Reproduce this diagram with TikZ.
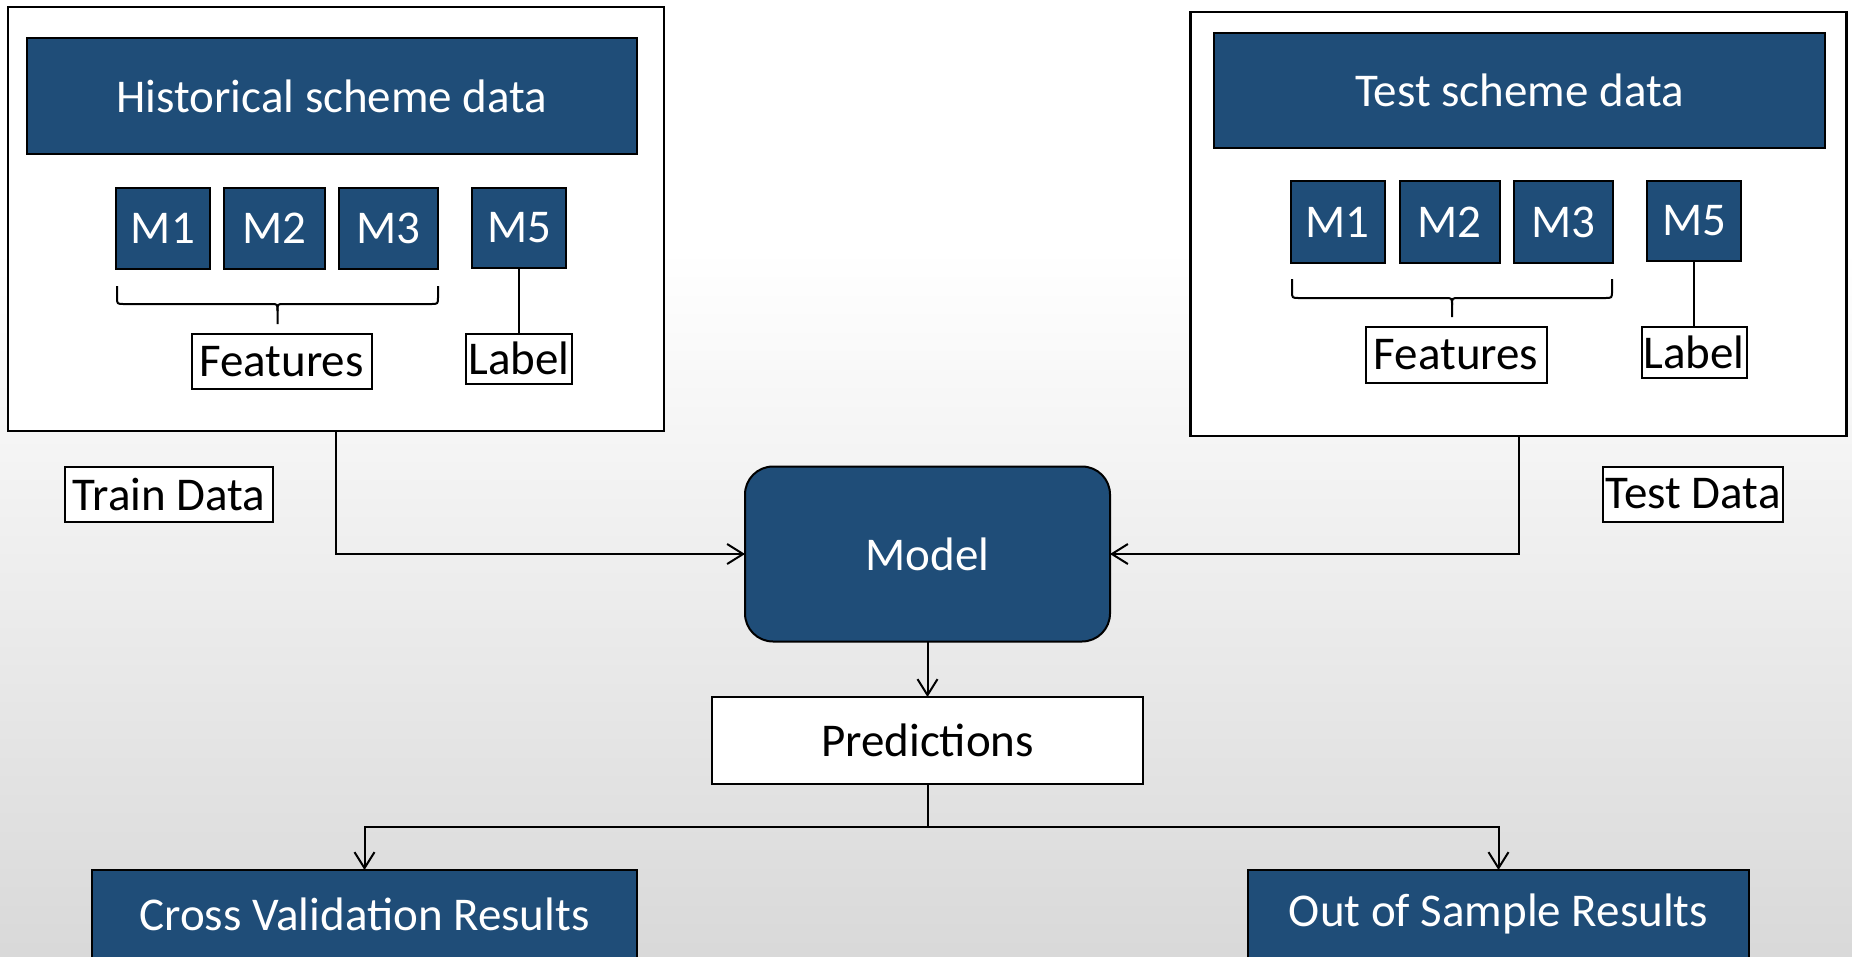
\documentclass[tikz,border=0pt]{standalone}
\usepackage{fontspec}
\setmainfont{Carlito}
\usetikzlibrary{arrows.meta,calc}
\definecolor{navy}{RGB}{31,77,120}
\begin{document}
\begin{tikzpicture}[x=1pt,y=-1pt,
  every node/.style={font=\fontsize{47}{56}\selectfont, inner sep=0pt, outer sep=0pt},
  darkbox/.style={draw=black, fill=navy, text=white, line width=2pt},
  whitebox/.style={draw=black, fill=white, line width=2pt},
  outerbox/.style={draw=black, fill=white, line width=2.5pt},
  conn/.style={line width=2pt},
  arr/.style={conn, -{Straight Barb[length=16pt,width=20pt]}},
]
\useasboundingbox (0,0) rectangle (1852,956);
\clip (0,0) rectangle (1852,956);
\fill[white] (0,0) rectangle (1852,250);
\shade[top color=white, bottom color=gray!30] (0,249) rectangle (1852,956);

% left group
\node[outerbox, minimum width=656, minimum height=424] (lbox) at (336,219) {};
\node[darkbox, minimum width=610, minimum height=116] (lhead) at (332,96) {Historical scheme data};
\node[darkbox, minimum width=94, minimum height=81] (lm1) at (163,228.5) {M1};
\node[darkbox, minimum width=101, minimum height=81] (lm2) at (274.5,228.5) {M2};
\node[darkbox, minimum width=99, minimum height=81] (lm3) at (388.5,228.5) {M3};
\node[darkbox, minimum width=94, minimum height=80] (lm5) at (519,228) {M5};
\node[whitebox, minimum width=180, minimum height=55] (lfeat) at (281.5,361.5) {Features};
\node[whitebox, minimum width=106, minimum height=50] (llabel) at (519,358.5) {Label};
\draw[conn] (lm5.south) -- (lm5.south |- llabel.north);
\draw[conn] (117,286) -- (117,297) .. controls (117,304) .. (124,304) -- (271,304) .. controls (277.5,304) .. (277.5,311) -- (277.5,324);
\draw[conn] (438,286) -- (438,297) .. controls (438,304) .. (431,304) -- (284,304) .. controls (277.5,304) .. (277.5,311);

% right group
\node[outerbox, minimum width=656, minimum height=424] (rbox) at (1518.5,224) {};
\node[darkbox, minimum width=611, minimum height=115] (rhead) at (1519.5,90.5) {Test scheme data};
\node[darkbox, minimum width=94, minimum height=82] (rm1) at (1337.5,222) {M1};
\node[darkbox, minimum width=100, minimum height=82] (rm2) at (1449.5,222) {M2};
\node[darkbox, minimum width=99, minimum height=82] (rm3) at (1563,222) {M3};
\node[darkbox, minimum width=94, minimum height=80] (rm5) at (1694,221) {M5};
\node[whitebox, minimum width=181, minimum height=56] (rfeat) at (1456,355) {Features};
\node[whitebox, minimum width=105, minimum height=51] (rlabel) at (1694,352.5) {Label};
\draw[conn] (rm5.south) -- (rm5.south |- rlabel.north);
\draw[conn] (1292,279) -- (1292,291) .. controls (1292,298) .. (1299,298) -- (1445,298) .. controls (1452,298) .. (1452,305) -- (1452,317);
\draw[conn] (1612,279) -- (1612,291) .. controls (1612,298) .. (1605,298) -- (1459,298) .. controls (1452,298) .. (1452,305);

% middle
\node[whitebox, minimum width=208, minimum height=55] (train) at (169,494) {Train Data};
\node[whitebox, minimum width=180, minimum height=55] (testd) at (1693,494) {Test Data};
\node[darkbox, rounded corners=28pt, minimum width=365, minimum height=175] (model) at (927.5,554) {Model};
\node[whitebox, minimum width=431, minimum height=87] (pred) at (927.5,740.5) {Predictions};
\node[darkbox, minimum width=545, minimum height=88] (cv) at (364.5,914) {Cross Validation Results};
\node[darkbox, minimum width=501, minimum height=88] (oos) at (1498.5,914) {Out of Sample Results};

\draw[arr] (lbox.south) |- (model.west);
\draw[arr] (rbox.south) |- (model.east);
\draw[arr] (model.south) -- (pred.north);
\coordinate (split) at ($(pred.south)+(0,43)$);
\draw[conn] (pred.south) -- (split);
\draw[arr] (split) -| (cv.north);
\draw[arr] (split) -| (oos.north);
\end{tikzpicture}
\end{document}
